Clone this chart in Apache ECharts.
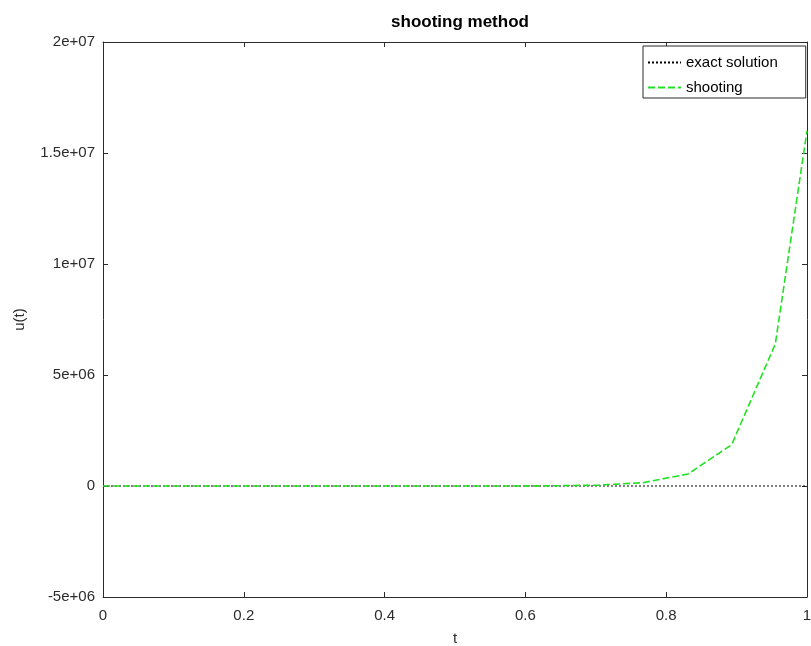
<!DOCTYPE html>
<html>
<head>
<meta charset="utf-8">
<script src="https://cdn.jsdelivr.net/npm/echarts@6/dist/echarts.min.js"></script>
<style>
  html, body { margin: 0; padding: 0; background: #ffffff; }
  #chart { width: 811px; height: 646px; }
</style>
</head>
<body>
<div id="chart"></div>
<script>
// Sample times of the discretised boundary value problem
const tValues = [0, 0.0625, 0.125, 0.1875, 0.25, 0.3125, 0.375, 0.4375, 0.5, 0.5625,
                 0.58, 0.643, 0.705, 0.767, 0.831, 0.893, 0.955, 1];
// Exact solution u(t) (stays near zero on this scale)
const exactValues = [0, 0, 0, 0, 0, 0, 0, 0, 0, 0, 0, 0, 0, 0, 0, 0, 0, 0];
// Shooting method result u(t)
const shootingValues = [0, 0, 0, 0, 0, 0, 0, 0, 0, 0,
                        2000, 10000, 40000, 150000, 540000, 1860000, 6400000, 16000000];

const xTicks = [0, 0.2, 0.4, 0.6, 0.8, 1];
const yTicks = [-5e6, 0, 5e6, 1e7, 1.5e7, 2e7];

function toPairs(xs, ys) { return xs.map((x, i) => [x, ys[i]]); }

function sciLabel(v) {
  if (v === 0) return '0';
  const sign = v < 0 ? '-' : '';
  const a = Math.abs(v);
  const e = Math.floor(Math.log10(a) + 1e-9);
  const m = +(a / Math.pow(10, e)).toFixed(4);
  const es = (e < 10 ? '0' : '') + e;
  return sign + m + 'e+' + es;
}

const axisColor = '#2b2b2b';
const fontFam = 'Liberation Sans, Arial, sans-serif';

function boxAxis(extra) {
  return Object.assign({
    type: 'value',
    axisLine: { show: true, onZero: false, lineStyle: { color: axisColor, width: 1 } },
    axisTick: { show: true, inside: true, length: 5, lineStyle: { color: axisColor } },
    axisLabel: { show: false },
    splitLine: { show: false }
  }, extra);
}

const chart = echarts.init(document.getElementById('chart'), null, { renderer: 'canvas' });
chart.setOption({
  animation: false,
  backgroundColor: '#ffffff',
  title: {
    text: 'shooting method',
    left: 455, top: 9, textAlign: 'center',
    textStyle: { fontFamily: fontFam, fontSize: 17, fontWeight: 'bold', color: '#000' }
  },
  grid: { left: 103, right: 4, top: 42, bottom: 49, containLabel: false, outerBoundsMode: 'none' },
  legend: {
    orient: 'vertical',
    left: 643, top: 46,
    backgroundColor: '#ffffff',
    borderColor: axisColor, borderWidth: 1,
    padding: [9, 28, 3, 4],
    itemGap: 10,
    itemWidth: 33, itemHeight: 16,
    itemStyle: { opacity: 0 },
    textStyle: { fontFamily: fontFam, fontSize: 15, color: '#000' },
    data: ['exact solution', 'shooting']
  },
  xAxis: [boxAxis({
    min: 0, max: 1, interval: 0.2, position: 'bottom',
    name: 't', nameLocation: 'middle', nameGap: 34,
    nameTextStyle: { fontFamily: fontFam, fontSize: 15, color: axisColor },
    axisLabel: { show: true, fontFamily: fontFam, fontSize: 15, color: axisColor, margin: 11,
                 formatter: v => String(+v.toFixed(2)) }
  }), boxAxis({
    min: 0, max: 1, interval: 0.2, position: 'top'
  })],
  yAxis: [boxAxis({
    min: -5e6, max: 2e7, interval: 5e6, position: 'left',
    name: 'u(t)', nameLocation: 'middle', nameGap: 76, nameRotate: 90,
    nameTextStyle: { fontFamily: fontFam, fontSize: 15, color: axisColor },
    axisLabel: { show: true, fontFamily: fontFam, fontSize: 15, color: axisColor, margin: 8,
                 formatter: sciLabel }
  }), boxAxis({
    min: -5e6, max: 2e7, interval: 5e6, position: 'right'
  })],
  series: [{
    name: 'exact solution',
    type: 'line',
    data: toPairs(tValues, exactValues),
    showSymbol: false, symbol: 'none',
    lineStyle: { color: '#000000', width: 1, type: [2, 2] },
    itemStyle: { color: '#000000' },
    z: 2
  }, {
    name: 'shooting',
    type: 'line',
    data: toPairs(tValues, shootingValues),
    showSymbol: false, symbol: 'none',
    lineStyle: { color: '#22e022', width: 1.6, type: [7, 3] },
    itemStyle: { color: '#22e022' },
    z: 3
  }]
});
</script>
</body>
</html>
